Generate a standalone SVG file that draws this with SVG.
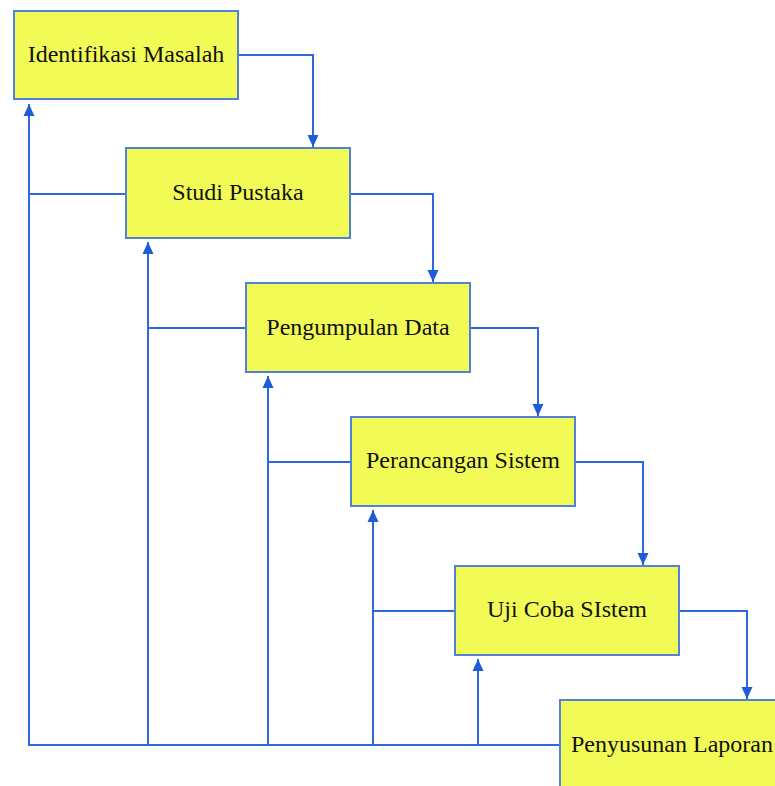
<svg xmlns="http://www.w3.org/2000/svg" width="775" height="786" viewBox="0 0 775 786">
<style>
.box{fill:#f2fb55;stroke:#4f82d8;stroke-width:2}
.lbl{font-family:"Liberation Serif","Times New Roman",serif;font-size:24px;fill:#111;text-anchor:middle}
.c{fill:none;stroke:#2f68dc;stroke-width:2}
</style>
<defs>
<marker id="ah" viewBox="0 0 12 12" refX="12" refY="6" markerWidth="12" markerHeight="12" markerUnits="userSpaceOnUse" orient="auto">
<path d="M0,0.5 L12,6 L0,11.5 Z" fill="#1f5cd8"/>
</marker>
</defs>
<rect width="775" height="786" fill="#fff"/>
<g id="connectors">
<path class="c" d="M238,55 H313 V147" marker-end="url(#ah)"/>
<path class="c" d="M350,194 H433 V282" marker-end="url(#ah)"/>
<path class="c" d="M470,328 H538 V416" marker-end="url(#ah)"/>
<path class="c" d="M575,462 H643 V565" marker-end="url(#ah)"/>
<path class="c" d="M680,611 H747 V699" marker-end="url(#ah)"/>
<path class="c" d="M560,745 H29 V104" marker-end="url(#ah)"/>
<path class="c" d="M126,194 H29"/>
<path class="c" d="M148,745 V242" marker-end="url(#ah)"/>
<path class="c" d="M246,328 H148"/>
<path class="c" d="M268,745 V376" marker-end="url(#ah)"/>
<path class="c" d="M351,462 H268"/>
<path class="c" d="M373,745 V510" marker-end="url(#ah)"/>
<path class="c" d="M455,611 H373"/>
<path class="c" d="M478,745 V659" marker-end="url(#ah)"/>
</g>
<g id="n1"><rect class="box" x="14" y="11" width="224" height="88"/><text class="lbl" x="126" y="62">Identifikasi Masalah</text></g>
<g id="n2"><rect class="box" x="126" y="148" width="224" height="90"/><text class="lbl" x="238" y="200">Studi Pustaka</text></g>
<g id="n3"><rect class="box" x="246" y="283" width="224" height="89"/><text class="lbl" x="358" y="335">Pengumpulan Data</text></g>
<g id="n4"><rect class="box" x="351" y="417" width="224" height="89"/><text class="lbl" x="463" y="468">Perancangan Sistem</text></g>
<g id="n5"><rect class="box" x="455" y="566" width="224" height="89"/><text class="lbl" x="567" y="617">Uji Coba SIstem</text></g>
<g id="n6"><rect class="box" x="560" y="700" width="224" height="100"/><text class="lbl" x="672" y="752">Penyusunan Laporan</text></g>
</svg>
